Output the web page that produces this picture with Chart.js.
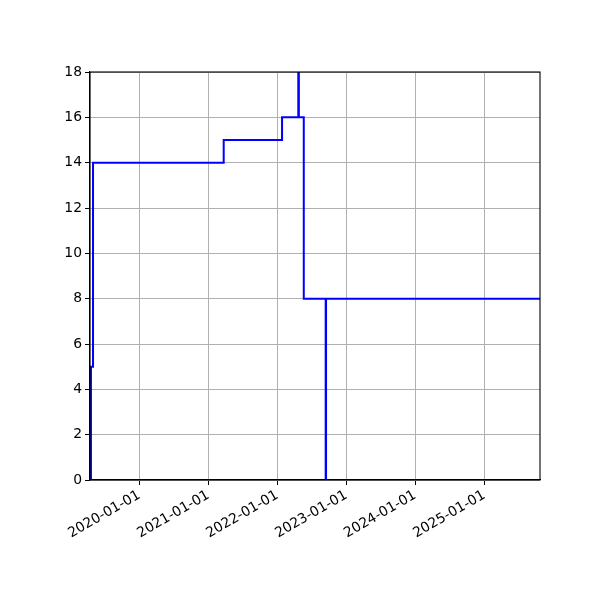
<!DOCTYPE html>
<html>
<head>
<meta charset="utf-8">
<script src="https://cdn.jsdelivr.net/npm/chart.js@4/dist/chart.umd.min.js"></script>
<style>
html,body{margin:0;padding:0;background:#fff;}
#wrap{width:600px;height:600px;}
</style>
</head>
<body>
<div id="wrap"><canvas id="c" width="600" height="600"></canvas></div>
<script>
// Data (step series)
const dates = ["2019-04-15","2019-04-20","2019-05-01","2021-03-23","2022-01-26","2022-04-22","2022-04-25","2022-05-21","2022-09-14","2022-09-16","2025-10-23"];
const values = [0, 5, 14, 15, 16, 20, 16, 8, 0, 8, 8];
const xTickLabels = ["2020-01-01","2021-01-01","2022-01-01","2023-01-01","2024-01-01","2025-01-01"];
const yTicks = [0,2,4,6,8,10,12,14,16,18];
const xMinDate = "2019-04-15";
const xMaxDate = "2025-10-23";

const ts = d => Date.parse(d + "T00:00:00Z");
const pts = dates.map((d,i)=>({x:ts(d), y:values[i]}));
const fmt = v => { const d = new Date(v); const p=n=>String(n).padStart(2,'0'); return d.getUTCFullYear()+'-'+p(d.getUTCMonth()+1)+'-'+p(d.getUTCDate()); };

const frame = {
  id:'frame',
  afterDatasetsDraw(chart){
    const {ctx, chartArea:a} = chart;
    ctx.save();
    ctx.strokeStyle='#000'; ctx.lineWidth=1.1;
    ctx.strokeRect(a.left, a.top, a.right-a.left, a.bottom-a.top);
    ctx.restore();
  }
};

new Chart(document.getElementById('c'), {
  type:'line',
  data:{datasets:[{data:pts, borderColor:'#0000ff', borderWidth:2, pointRadius:0, stepped:'before', fill:false, clip:0, tension:0}]},
  options:{
    responsive:false, animation:false, devicePixelRatio:1,
    layout:{padding:{left:0, top:72, right:60, bottom:0}},
    plugins:{legend:{display:false}, tooltip:{enabled:false}},
    scales:{
      x:{type:'linear', min:ts(xMinDate), max:ts(xMaxDate),
         afterBuildTicks(s){ s.ticks = xTickLabels.map(l=>({value:ts(l)})); },
         afterFit(s){ s.height = 120; },
         grid:{color:'#b0b0b0', lineWidth:1, tickColor:'#000', tickLength:5, drawTicks:true},
         border:{color:'#000', width:1.1},
         ticks:{autoSkip:false, maxRotation:30, minRotation:30, padding:2, color:'#000',
                font:{family:'DejaVu Sans', size:13.9}, callback:v=>fmt(v)}
      },
      y:{type:'linear', min:0, max:18,
         afterBuildTicks(s){ s.ticks = yTicks.map(v=>({value:v})); },
         afterFit(s){ s.width = 90; },
         grid:{color:'#b0b0b0', lineWidth:1, tickColor:'#000', tickLength:5},
         border:{color:'#000', width:1.1},
         ticks:{padding:3, color:'#000', font:{family:'DejaVu Sans', size:13.9}}
      }
    }
  },
  plugins:[frame]
});
</script>
</body>
</html>
